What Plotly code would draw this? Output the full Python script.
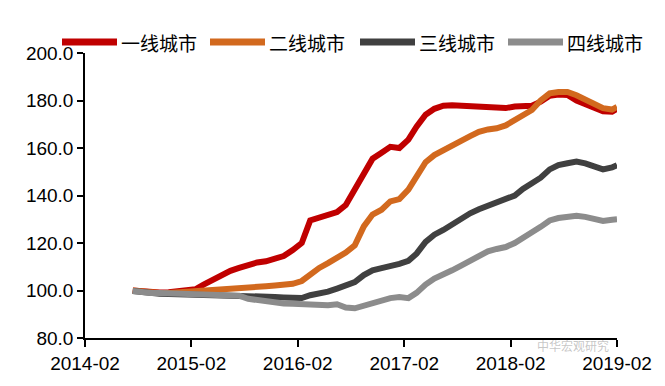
import plotly.graph_objects as go

months = [
    "2014-07-15", "2014-08-15", "2014-09-15", "2014-10-15", "2014-11-15", "2014-12-15",
    "2015-01-15", "2015-02-15", "2015-03-15", "2015-04-15", "2015-05-15", "2015-06-15",
    "2015-07-15", "2015-08-15", "2015-09-15", "2015-10-15", "2015-11-15", "2015-12-15",
    "2016-01-15", "2016-02-15", "2016-03-15", "2016-04-15", "2016-05-15", "2016-06-15",
    "2016-07-15", "2016-08-15", "2016-09-15", "2016-10-15", "2016-11-15", "2016-12-15",
    "2017-01-15", "2017-02-15", "2017-03-15", "2017-04-15", "2017-05-15", "2017-06-15",
    "2017-07-15", "2017-08-15", "2017-09-15", "2017-10-15", "2017-11-15", "2017-12-15",
    "2018-01-15", "2018-02-15", "2018-03-15", "2018-04-15", "2018-05-15", "2018-06-15",
    "2018-07-15", "2018-08-15", "2018-09-15", "2018-10-15", "2018-11-15", "2018-12-15",
    "2019-01-15", "2019-02-01",
]

tier1 = [
    100.0, 99.6, 99.3, 99.2, 99.3, 99.5,
    99.8, 100.5, 102.5, 104.5, 106.5, 108.3,
    109.5, 110.8, 111.8, 112.3, 113.2, 114.5,
    117.0, 120.0, 129.5, 130.8, 131.8, 133.0,
    136.0, 143.0, 149.0, 155.5, 158.0, 160.5,
    160.0, 163.5, 169.0, 174.0, 176.5, 177.8,
    178.0, 177.8, 178.0, 177.7, 177.5, 177.2,
    176.8, 177.5, 177.5, 177.8, 179.5, 182.0,
    182.5, 182.3, 180.0, 178.5, 177.5, 175.5,
    175.3, 176.5,
]

tier2 = [
    100.0, 99.5, 99.2, 99.0, 99.0, 99.2,
    99.4, 99.6, 99.8, 100.2, 100.6, 101.0,
    101.2, 101.4, 101.6, 101.8, 102.1, 102.4,
    102.8, 104.0, 107.0, 109.5, 111.5, 113.5,
    116.0, 119.0, 127.0, 132.0, 134.0, 137.5,
    138.5, 142.5, 148.5, 154.0, 157.0, 158.8,
    161.0, 163.0, 165.0, 166.8, 167.8, 168.3,
    169.5, 171.5, 173.5, 176.0, 180.0, 183.0,
    183.6, 183.6, 182.2, 180.3, 178.6, 176.8,
    176.2, 177.3,
]

tier3 = [
    99.8, 99.2, 98.8, 98.6, 98.5, 98.4,
    98.4, 98.4, 98.4, 98.4, 98.3, 98.3,
    98.2, 98.2, 98.0, 97.6, 97.3, 97.1,
    97.0, 96.8, 98.0, 98.7, 99.5, 100.8,
    102.0, 103.5, 106.5, 108.5, 109.4, 110.0,
    111.2, 112.5, 115.5, 120.5, 123.5, 125.5,
    127.8, 130.5, 132.5, 134.2, 135.8, 137.0,
    138.5, 140.0, 142.8, 145.5, 147.5, 151.0,
    152.8, 153.6, 154.3, 153.5, 152.0, 151.0,
    151.8, 152.8,
]

tier4 = [
    99.8, 99.2, 99.0, 98.9, 98.8, 98.7,
    98.6, 98.5, 98.4, 98.3, 98.2, 98.0,
    97.8, 96.5, 96.0, 95.0, 94.4, 94.5,
    94.4, 94.2, 93.8, 93.5, 93.8, 94.2,
    92.8, 92.5, 93.6, 94.8, 95.8, 96.8,
    97.3, 96.8, 99.0, 102.5, 105.0, 106.5,
    108.5, 110.5, 112.5, 114.5, 116.5, 117.5,
    118.3, 120.0, 122.5, 124.5, 126.8, 129.5,
    130.5, 131.0, 131.5, 131.0, 130.0, 129.3,
    129.8, 130.0,
]

series_names = ["一线城市", "二线城市", "三线城市", "四线城市"]
series_values = [tier1, tier2, tier3, tier4]
series_colors = ["#C00000", "#D2691E", "#404040", "#8C8C8C"]

x_tick_vals = ["2014-02-01", "2015-02-01", "2016-02-01", "2017-02-01", "2018-02-01", "2019-02-01"]
x_tick_text = ["2014-02", "2015-02", "2016-02", "2017-02", "2018-02", "2019-02"]
y_tick_vals = [80, 100, 120, 140, 160, 180, 200]

fig = go.Figure()
for name, vals, col in zip(series_names, series_values, series_colors):
    fig.add_trace(go.Scatter(
        x=months, y=vals, mode="lines", name=name,
        line=dict(color=col, width=6), showlegend=False,
    ))

# manual legend (paper coordinates)
plot_left, plot_w = 85, 532
plot_top, plot_h = 53, 285
leg_starts_px = [62, 210, 360, 508]
leg_line_len = 55
leg_y_px = 42
for i, (name, col) in enumerate(zip(series_names, series_colors)):
    x0 = (leg_starts_px[i] - plot_left) / plot_w
    x1 = (leg_starts_px[i] + leg_line_len - plot_left) / plot_w
    yy = 1 + (plot_top - leg_y_px) / plot_h
    fig.add_shape(type="line", xref="paper", yref="paper", x0=x0, x1=x1, y0=yy, y1=yy,
                  line=dict(color=col, width=7))
    fig.add_annotation(xref="paper", yref="paper", x=x1 + 2 / plot_w, y=yy,
                       text=name, showarrow=False, xanchor="left", yanchor="middle",
                       font=dict(family="Noto Sans CJK SC", size=19, color="#000000"))

fig.add_annotation(xref="paper", yref="paper", x=(535 - plot_left) / plot_w, y=-(345 - 338) / plot_h,
                   text="中华宏观研究", showarrow=False, xanchor="left", yanchor="middle",
                   font=dict(family="Noto Sans CJK SC", size=12, color="rgba(150,150,150,0.55)"))

fig.update_layout(
    width=665, height=386,
    margin=dict(l=85, r=48, t=53, b=48),
    paper_bgcolor="white", plot_bgcolor="white",
    font=dict(family="Liberation Sans, Arial", size=19, color="#000000"),
)
fig.update_xaxes(
    type="date", range=["2014-02-01", "2019-02-01"],
    tickvals=x_tick_vals, ticktext=x_tick_text,
    showline=True, linecolor="#000000", linewidth=1.5,
    ticks="outside", ticklen=7, tickwidth=1.5, tickcolor="#000000",
    showgrid=False, zeroline=False,
    tickfont=dict(family="Liberation Sans, Arial", size=19, color="#000000"),
)
fig.update_yaxes(
    range=[80, 200], tickvals=y_tick_vals, tickformat=".1f",
    showline=True, linecolor="#000000", linewidth=1.5,
    ticks="outside", ticklen=6, tickwidth=1.5, tickcolor="#000000",
    showgrid=False, zeroline=False,
    tickfont=dict(family="Liberation Sans, Arial", size=19, color="#000000"),
)

fig.write_html(
    "out.html",
    config={"displayModeBar": False},
    post_script="document.body.style.margin='0';document.body.style.overflow='hidden';",
)
